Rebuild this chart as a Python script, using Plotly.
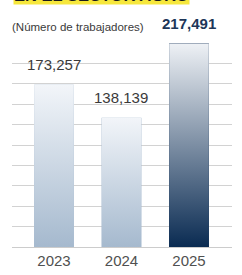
import base64
import plotly.graph_objects as go

years = ["2023", "2024", "2025"]
workers = [173257, 138139, 217491]
value_labels = ["173,257", "138,139", "217,491"]
subtitle = "(Número de trabajadores)"
title_text = "EN EL SECTOR AGRO"

FONT = "Liberation Sans, Arial, sans-serif"

def grad_uri(top, bottom):
    svg = (
        '<svg xmlns="http://www.w3.org/2000/svg" width="10" height="100" '
        'preserveAspectRatio="none" viewBox="0 0 10 100">'
        '<defs><linearGradient id="g" x1="0" y1="0" x2="0" y2="1">'
        f'<stop offset="0" stop-color="{top}"/><stop offset="1" stop-color="{bottom}"/>'
        '</linearGradient></defs><rect width="10" height="100" fill="url(#g)"/></svg>'
    )
    return "data:image/svg+xml;base64," + base64.b64encode(svg.encode()).decode()

tops = ["#f2f5f9", "#f2f5f9", "#eef1f5"]
bottoms = ["#a5b9ce", "#a5b9ce", "#0a2b52"]
xs = list(range(len(years)))
bar_w = 0.59

fig = go.Figure()
fig.add_trace(go.Bar(
    x=xs, y=workers, width=bar_w,
    marker=dict(color=bottoms, line=dict(width=0)),
    hoverinfo="skip", showlegend=False,
))

images = []
for i, v in enumerate(workers):
    images.append(dict(
        source=grad_uri(tops[i], bottoms[i]),
        xref="x", yref="y", x=xs[i] - bar_w / 2, y=v,
        sizex=bar_w, sizey=v, xanchor="left", yanchor="top",
        sizing="stretch", layer="above",
    ))

annotations = []
for i, v in enumerate(workers):
    last = i == len(workers) - 1
    annotations.append(dict(
        x=xs[i], y=v, xref="x", yref="y", text=value_labels[i],
        showarrow=False, yanchor="middle", yshift=20,
        font=dict(family=FONT, size=15,
                  color="#1d3658" if last else "#3a3a3a",
                  weight="bold" if last else "normal"),
    ))
annotations.append(dict(
    x=-0.009, y=1.078, xref="paper", yref="paper", text=subtitle,
    showarrow=False, xanchor="left", yanchor="middle",
    font=dict(family=FONT, size=11.5, color="#3a3a3a"),
))
annotations.append(dict(
    x=0.005, y=1.186, xref="paper", yref="paper", text="<b>" + title_text + "</b>",
    showarrow=False, xanchor="left", yanchor="bottom",
    bgcolor="#f6e73c", borderpad=0,
    font=dict(family=FONT, size=16.5, color="#1a1a1a"),
))

fig.update_layout(
    width=242, height=275,
    margin=dict(l=12, r=10, t=43, b=28),
    paper_bgcolor="white", plot_bgcolor="white",
    images=images,
    annotations=annotations,
    xaxis=dict(
        range=[-0.622, 2.637], tickmode="array", tickvals=xs, ticktext=years,
        showgrid=False, zeroline=False, showline=False, ticks="",
        tickfont=dict(family=FONT, size=15, color="#505050"),
        ticklabelstandoff=3,
        fixedrange=True, automargin=False,
    ),
    yaxis=dict(
        range=[0, 218000], tickmode="linear", tick0=0, dtick=21800,
        showgrid=True, gridcolor="#d2d2d2", gridwidth=1,
        zeroline=True, zerolinecolor="#cccccc", zerolinewidth=1,
        showticklabels=False, ticks="", fixedrange=True, automargin=False,
    ),
)

fig.write_html(
    "out.html",
    config={"displayModeBar": False},
    post_script="document.body.style.margin='0';document.body.style.overflow='hidden';",
)
